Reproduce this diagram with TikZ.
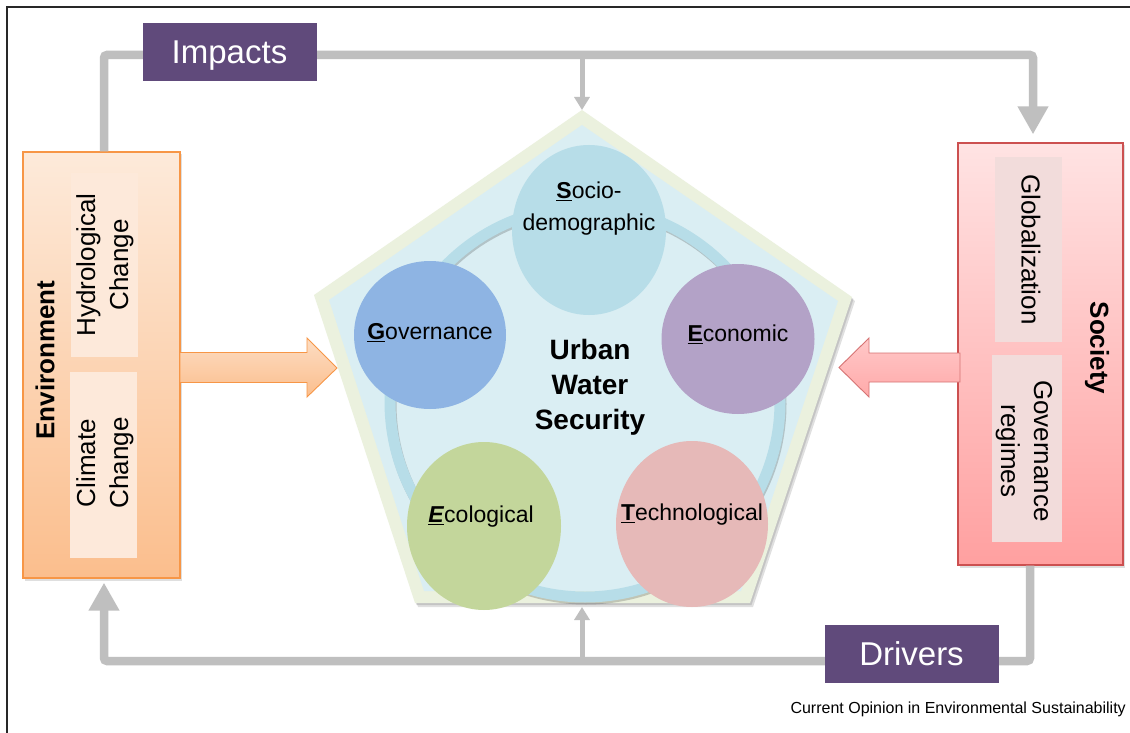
\documentclass[tikz,border=0pt]{standalone}
\usepackage{fontspec}
\setmainfont{Liberation Sans}
\usetikzlibrary{arrows.meta,calc,shadows,shapes.geometric}

\definecolor{tagpurple}{RGB}{96,74,123}
\definecolor{linkgray}{RGB}{191,191,191}
\definecolor{envtop}{RGB}{253,234,218}
\definecolor{envbot}{RGB}{251,190,141}
\definecolor{envline}{RGB}{247,150,70}
\definecolor{envin}{RGB}{253,233,218}
\definecolor{soctop}{RGB}{255,227,227}
\definecolor{socbot}{RGB}{255,160,160}
\definecolor{socline}{RGB}{204,80,80}
\definecolor{socin}{RGB}{242,220,219}
\definecolor{pentrim}{RGB}{235,241,222}
\definecolor{pentfill}{RGB}{218,238,243}
\definecolor{ringcol}{RGB}{183,221,232}
\definecolor{sociocol}{RGB}{183,221,232}
\definecolor{govcol}{RGB}{142,180,227}
\definecolor{econcol}{RGB}{179,162,199}
\definecolor{ecocol}{RGB}{195,214,155}
\definecolor{techcol}{RGB}{230,185,184}
\definecolor{framecol}{RGB}{40,40,40}

\newcommand\fsz[2]{\fontsize{#1}{#2}\selectfont}

\begin{document}
\begin{tikzpicture}[x=1pt,y=-1pt,
  tagbox/.style={fill=tagpurple,text=white,minimum width=174,minimum height=58,
    inner sep=0,text depth=0pt,font=\fsz{33}{36}},
  envbox/.style={draw=envline,line width=1.2pt,top color=envtop,bottom color=envbot,
    inner sep=0,drop shadow={shadow xshift=1.5pt,shadow yshift=-2.5pt,opacity=0.25}},
  socbox/.style={draw=socline,line width=1.2pt,top color=soctop,bottom color=socbot,
    inner sep=0,drop shadow={shadow xshift=1.5pt,shadow yshift=-2.5pt,opacity=0.25}},
  envinner/.style={fill=envin,inner sep=0},
  socinner/.style={fill=socin,inner sep=0},
  sidetext/.style={font=\fsz{26}{33},align=center,inner sep=0},
  sidehead/.style={font=\fsz{26}{30}\bfseries,inner sep=0},
  link/.style={draw=linkgray,line width=8.5pt,rounded corners=3pt},
  thinlink/.style={draw=linkgray,line width=5pt},
  bigtip/.style={-{Triangle[width=29pt,length=28pt]}},
  smalltip/.style={-{Triangle[width=15pt,length=13pt]}},
  factor/.style={ellipse,inner sep=0},
  factortext/.style={font=\fsz{23}{32},align=center,inner sep=0},
  orangearrow/.style={draw=envline,line width=0.9pt,top color=envtop!70!envbot,bottom color=envbot,line join=miter},
  pinkarrow/.style={draw=socline!80,line width=0.9pt,top color=soctop!60!socbot,bottom color=socbot!90,line join=miter}
]
\useasboundingbox (0,0) rectangle (1130,733);
\fill[white] (0,0) rectangle (1130,733);

% page frame (top and left edges)
\draw[framecol,line width=1.4pt] (7,733) -- (7,7) -- (1130,7);

% ---------- side boxes ----------
\node[envbox,minimum width=157,minimum height=426] (env) at (101.5,365) {};
\node[envinner,minimum width=67,minimum height=184] (hydbox) at (104.5,265) {};
\node[envinner,minimum width=67,minimum height=186] (climbox) at (103,465) {};
\node[sidetext,rotate=90] (hydtext) at (105,265) {Hydrological\\Change};
\node[sidetext,rotate=90] (climtext) at (105,463) {Climate\\Change};
\node[sidehead,rotate=90] (envtitle) at (45,360) {Environment};

\node[socbox,minimum width=165,minimum height=422] (soc) at (1040.5,354) {};
\node[socinner,minimum width=67,minimum height=185] (globbox) at (1028.5,249.5) {};
\node[socinner,minimum width=70,minimum height=187] (govbox) at (1027,448.5) {};
\node[sidetext,rotate=-90] (globtext) at (1031,249.5) {Globalization};
\node[sidetext,rotate=-90] (govtext) at (1024,451) {Governance\\regimes};
\node[sidehead,rotate=-90] (soctitle) at (1097,348) {Society};

% ---------- feedback loop ----------
\coordinate (topleft) at (104,55);
\coordinate (topright) at (1033,55);
\coordinate (topmid) at (582,55);
\coordinate (botright) at (1030,661);
\coordinate (botleft) at (104,661);
\coordinate (botmid) at (582,661);
\coordinate (ptop) at (582,110);
\coordinate (pbot) at (582,607);

\draw[link,bigtip] ($(env.north)+(2.5,0)$) -- (topleft) -- (topright) -- ($(soc.north)+(-7.5,-8)$);
\draw[link,bigtip] ($(soc.south)+(-10.5,0)$) -- (botright) -- (botleft) -- ($(env.south)+(2.5,4)$);
\draw[thinlink,smalltip] (topmid) -- (ptop);
\draw[thinlink,smalltip] (botmid) -- (pbot);

\node[tagbox] (impacts) at (229.5,52) {Impacts};
\node[tagbox] (drivers) at (911.5,654) {Drivers};

% ---------- central pentagon ----------
\fill[black,opacity=0.12] ($(582,110)+(3,4)$) -- ($(852,297)+(3,4)$) -- ($(750,603)+(3,4)$) -- ($(415,603)+(3,4)$) -- ($(314,295)+(3,4)$) -- cycle;
\fill[black,opacity=0.12] ($(582,110)+(1.5,2)$) -- ($(852,297)+(1.5,2)$) -- ($(750,603)+(1.5,2)$) -- ($(415,603)+(1.5,2)$) -- ($(314,295)+(1.5,2)$) -- cycle;
\fill[pentrim] (582,110) -- (852,297) -- (750,603) -- (415,603) -- (314,295) -- cycle;
\fill[pentfill] (582,125) -- (838,301) -- (741,591) -- (424,591) -- (329,300) -- cycle;

% ring linking the five dimensions
\draw[black,opacity=0.18,line width=11pt] (586,404) circle[radius=195pt];
\draw[ringcol,line width=11pt] (585,402) circle[radius=195pt];

\node[factor,fill=sociocol,minimum width=154,minimum height=170] (socio) at (589,230) {};
\node[factor,fill=govcol,minimum width=152,minimum height=148] (gov) at (430,335) {};
\node[factor,fill=econcol,minimum width=153,minimum height=150] (econ) at (738,339) {};
\node[factor,fill=ecocol,minimum width=154,minimum height=168] (eco) at (484,526) {};
\node[factor,fill=techcol,minimum width=152,minimum height=166] (tech) at (692,524) {};

\node[factortext] (sociotext) at (589,209) {\underline{\textbf{S}}ocio-\\demographic};
\node[factortext] (govtext2) at (430,333) {\underline{\textbf{G}}overnance};
\node[factortext] (econtext) at (738,334) {\underline{\textbf{E}}conomic};
\node[factortext] (ecotext) at (481,517) {\underline{\textbf{\textit{E}}}cological};
\node[factortext] (techtext) at (692,515) {\underline{\textbf{T}}echnological};

\node[font=\fsz{28}{35}\bfseries,align=center,inner sep=0] (uws) at (590,387) {Urban\\Water\\Security};

% ---------- block arrows into the pentagon ----------
\coordinate (envout) at (180,368);
\draw[orangearrow] (envout) ++(0,-15.5) -- ++(127,0) -- ++(0,-14.5) -- (337,368)
  -- (307,397) -- ++(0,-14.5) -- ++(-127,0) -- cycle;
\coordinate (socout) at (960,367.5);
\draw[pinkarrow] (socout) ++(0,-14.5) -- ++(-91,0) -- ++(0,-15) -- (839,367.5)
  -- (869,397) -- ++(0,-15) -- ++(91,0) -- cycle;

% source line
\node[font=\fsz{16}{18},anchor=east,inner sep=0] (source) at (1126,709) {Current Opinion in Environmental Sustainability};
\end{tikzpicture}
\end{document}
